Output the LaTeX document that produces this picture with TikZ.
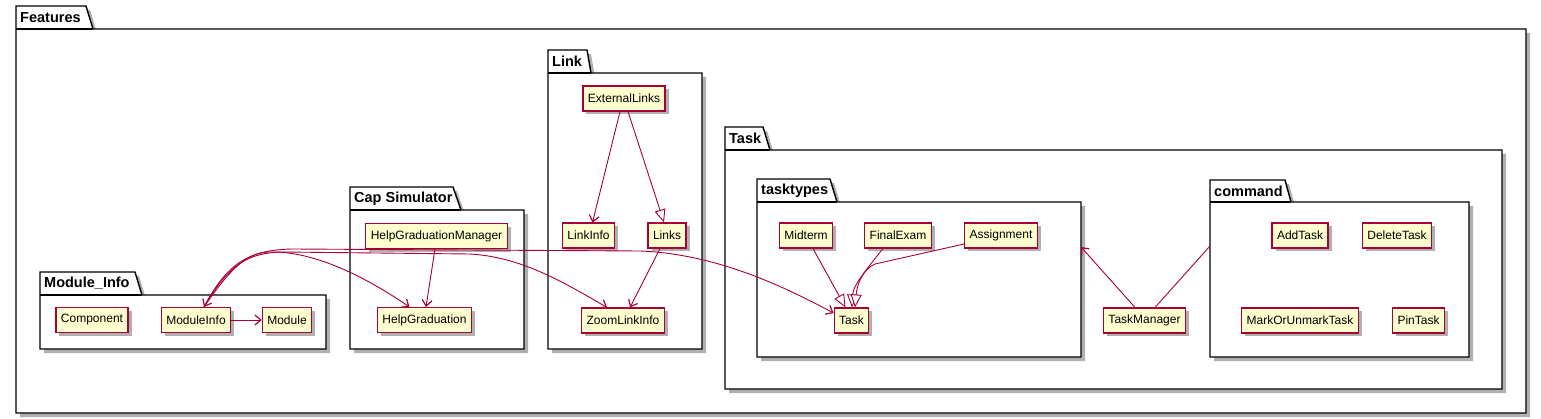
\documentclass[tikz,border=0pt]{standalone}
\usepackage{fontspec}
\setmainfont{Liberation Sans}
\usetikzlibrary{arrows.meta}
\definecolor{umlred}{HTML}{A80036}
\definecolor{umlyellow}{HTML}{FEFECE}
\definecolor{shadowgray}{HTML}{B0B0B0}
\tikzset{
  shad/.style={preaction={draw=none,fill=shadowgray,transform canvas={xshift=3.5pt,yshift=-3.5pt}}},
  pkg/.style={draw=black,line width=1.4pt,fill=white},
  pkgshadow/.style={fill=shadowgray,draw=none},
  pkgline/.style={draw=black,line width=1.4pt},
  pkglabel/.style={anchor=west,inner sep=0pt,font=\fontsize{14.5}{16}\selectfont\bfseries},
  cls/.style={draw=umlred,fill=umlyellow,line width=1.1pt,minimum height=25pt,inner xsep=5pt,inner ysep=0pt,font=\fontsize{12}{14}\selectfont,shad},
  tip/.tip={Straight Barb[length=6pt,width=10pt,line width=1.2pt]},
  arr/.style={draw=umlred,line width=0.9pt,-tip},
  biarr/.style={draw=umlred,line width=0.9pt,tip-tip},
  inh/.style={draw=umlred,line width=0.9pt,-{Triangle[length=13pt,width=11pt,fill=white,line width=0.9pt]}},
  plain/.style={draw=umlred,line width=0.9pt},
}
\newcommand\umlpkg[9]{%
  \path[pkgshadow] ({#2+4},{#6+4}) -- ({#2+4},{#3+4}) -- ({#4+4},{#3+4}) -- ({#5+4},{#6+4}) -- ({#7+4},{#6+4}) -- ({#7+4},{#8+4}) -- ({#2+4},{#8+4}) -- cycle;
  \draw[pkg] (#2,#6) -- (#2,#3) -- (#4,#3) -- (#5,#6) -- (#7,#6) -- (#7,#8) -- (#2,#8) -- cycle;
  \draw[pkgline] (#2,#6) -- (#5,#6);
  \node[pkglabel] (#1) at ({#2+4},{(#3+#6)/2}) {#9};
}
\begin{document}
\begin{tikzpicture}[x=1pt,y=-1pt]
\useasboundingbox (0,0) rectangle (1541,419);
% packages
\umlpkg{pFeatures}{16}{6}{86}{93}{29}{1526}{413}{Features}
\umlpkg{pModuleInfo}{40}{272}{135}{142}{295}{326}{349}{Module\_Info}
\umlpkg{pCap}{350}{187}{453}{461}{210}{524}{349}{Cap Simulator}
\umlpkg{pLink}{548}{50}{587}{591}{73}{702}{349}{Link}
\umlpkg{pTask}{725}{127}{763}{770}{150}{1502}{389}{Task}
\umlpkg{pTasktypes}{757}{179}{830}{837}{202}{1081}{357}{tasktypes}
\umlpkg{pCommand}{1210}{180}{1285}{1291}{202}{1469}{357}{command}
\coordinate (ttport) at (1081,247);
\coordinate (cmdport) at (1210,246);
% classes
\node[cls] (Component) at (92,320) {Component};
\node[cls] (ModuleInfo) at (196,320) {ModuleInfo};
\node[cls] (Module) at (287,320) {Module};
\node[cls] (HGM) at (436.5,236) {HelpGraduationManager};
\node[cls] (HelpGraduation) at (424.5,320) {HelpGraduation};
\node[cls] (ExternalLinks) at (624,98.5) {ExternalLinks};
\node[cls] (LinkInfo) at (588.5,235.5) {LinkInfo};
\node[cls] (Links) at (667,235.5) {Links};
\node[cls] (ZoomLinkInfo) at (623,320.5) {ZoomLinkInfo};
\node[cls] (Midterm) at (806,235.5) {Midterm};
\node[cls] (FinalExam) at (898,235.5) {FinalExam};
\node[cls] (Assignment) at (1001,235.5) {Assignment};
\node[cls] (Task) at (851.5,320.5) {Task};
\node[cls] (TaskManager) at (1144.5,320.5) {TaskManager};
\node[cls] (AddTask) at (1300,235.5) {AddTask};
\node[cls] (DeleteTask) at (1397,235.5) {DeleteTask};
\node[cls] (MarkOrUnmarkTask) at (1300,320.5) {MarkOrUnmarkTask};
\node[cls] (PinTask) at (1418.5,320.5) {PinTask};
% connectors
\draw[arr] (ModuleInfo.east) -- (Module.west);
\draw[arr] ([xshift=-1.5pt]HGM.south) -- ([xshift=1.5pt]HelpGraduation.north);
\draw[arr] ([xshift=-4pt]ExternalLinks.south) -- ([xshift=4pt]LinkInfo.north);
\draw[inh] ([xshift=4pt]ExternalLinks.south) -- ([xshift=-3pt]Links.north);
\draw[arr] ([xshift=-7pt]Links.south) -- ([xshift=7pt]ZoomLinkInfo.north);
\draw[arr] ([xshift=8pt]ModuleInfo.north) .. controls (235,262) and (250,251) .. (275,252)
   .. controls (320,253) and (370,280) .. ([xshift=-15pt]HelpGraduation.north);
\draw[arr] ([xshift=8pt]ModuleInfo.north) .. controls (230,262) and (250,253) .. (282,252)
   -- (470,254) .. controls (520,257) and (560,280) .. ([xshift=-16pt]ZoomLinkInfo.north);
\draw[biarr] ([xshift=8pt]ModuleInfo.north) .. controls (228,262) and (250,250) .. (292,249)
   -- (640,251) .. controls (720,254) and (790,290) .. ([yshift=7.5pt]Task.west);
\draw[inh] ([xshift=7pt]Midterm.south) -- ([xshift=-6pt]Task.north);
\draw[inh] ([xshift=-15pt]FinalExam.south) .. controls (870,265) and (853,285) .. ([xshift=0.5pt]Task.north);
\draw[inh] ([yshift=-8.5pt]Assignment.west) -- (875,264) .. controls (862,270) and (857,285) .. ([xshift=3.5pt]Task.north);
\draw[arr] ([xshift=-9.5pt]TaskManager.north) -- (ttport);
\draw[plain] ([xshift=10.5pt]TaskManager.north) -- (cmdport);
\end{tikzpicture}
\end{document}
